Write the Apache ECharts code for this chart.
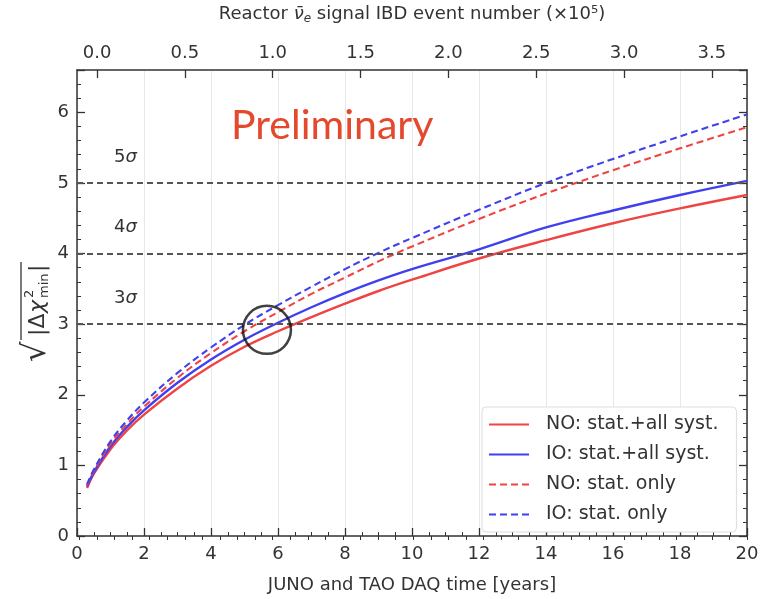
<!DOCTYPE html>
<html>
<head>
<meta charset="utf-8">
<script src="https://cdn.jsdelivr.net/npm/echarts@6/dist/echarts.min.js"></script>
<style>
  html, body { margin: 0; padding: 0; background: #fff; }
  #chart { width: 769px; height: 599px; }
</style>
</head>
<body>
<div id="chart"></div>
<script>
// DAQ time (years) and sqrt(|dchi2_min|)
const years = [0.3, 0.5, 1, 1.5, 2, 3, 4, 5, 6, 7, 8, 9, 10, 12, 14, 16, 18, 20]
const noSyst = [0.68, 0.88, 1.23, 1.50, 1.72, 2.09, 2.41, 2.68, 2.90, 3.10, 3.29, 3.47, 3.63, 3.93, 4.19, 4.43, 4.64, 4.83]
const ioSyst = [0.70, 0.90, 1.27, 1.55, 1.78, 2.17, 2.50, 2.78, 3.02, 3.24, 3.44, 3.62, 3.78, 4.06, 4.37, 4.61, 4.83, 5.03]
const noStat = [0.71, 0.92, 1.30, 1.59, 1.83, 2.24, 2.59, 2.90, 3.17, 3.43, 3.66, 3.89, 4.10, 4.49, 4.85, 5.18, 5.49, 5.79]
const ioStat = [0.73, 0.94, 1.34, 1.64, 1.89, 2.31, 2.67, 2.99, 3.27, 3.53, 3.78, 4.01, 4.22, 4.62, 5.00, 5.34, 5.66, 5.97]

const sigmaLevels = [3, 4, 5]
const circleMark = [[5.67, 2.92]]

// top axis: IBD events (x1e5)
const topTicks = [0, 0.5, 1.0, 1.5, 2.0, 2.5, 3.0, 3.5]
const topMin = -0.114
const topMax = 3.70
const topMinorTicks = []
for (let i = -1; i <= 37; i++) topMinorTicks.push(+(i * 0.1).toFixed(1))

const RED = '#ee4444'
const BLUE = '#4040ee'
const FONT = 'DejaVu Sans'

const pairs = vals => years.map((t, i) => [t, vals[i]])

const chart = echarts.init(document.getElementById('chart'))

const tickStyle = { inside: true, length: 8, lineStyle: { color: '#333', width: 1.3 } }
const minorStyle = { show: true, length: 4, lineStyle: { color: '#333', width: 1 } }

const option = {
  animation: false,
  textStyle: { fontFamily: FONT },
  grid: { left: 77, right: 22, top: 60, bottom: 61 },
  title: {
    text: 'Preliminary',
    left: 226,
    top: 100,
    textStyle: { color: '#e4482d', fontSize: 41, fontWeight: 'normal', fontFamily: 'Lato' }
  },
  legend: {
    data: ['NO: stat.+all syst.', 'IO: stat.+all syst.', 'NO: stat. only', 'IO: stat. only'],
    orient: 'vertical',
    left: 482,
    top: 407,
    itemWidth: 40,
    itemHeight: 16,
    itemGap: 11,
    padding: [8, 18, 8, 6],
    backgroundColor: '#fff',
    borderColor: '#dddddd',
    borderWidth: 1,
    borderRadius: 4,
    itemStyle: { opacity: 0 },
    textStyle: { fontSize: 19, color: '#333', fontFamily: FONT, padding: [0, 0, 0, 12] }
  },
  xAxis: [
    {
      type: 'value',
      position: 'bottom',
      min: 0,
      max: 20,
      interval: 2,
      name: 'JUNO and TAO DAQ time [years]',
      nameLocation: 'middle',
      nameGap: 40,
      nameTextStyle: { fontSize: 18, color: '#333' },
      axisLine: { show: true, onZero: false, lineStyle: { color: '#333', width: 1.5 } },
      axisTick: tickStyle,
      minorTick: Object.assign({ splitNumber: 4 }, minorStyle),
      axisLabel: { fontSize: 18, color: '#333', margin: 9 },
      splitLine: { show: true, lineStyle: { color: '#e8e8e8', width: 1 } }
    },
    {
      type: 'value',
      position: 'top',
      min: topMin,
      max: topMax,
      name: '{n|Reactor }{nu|ν̄}{sub|e}{n| signal IBD event number (×10⁵)}',
      nameLocation: 'middle',
      nameGap: 45,
      nameTextStyle: {
        rich: {
          n: { fontSize: 18, color: '#333', fontFamily: FONT },
          nu: { fontSize: 18, color: '#333', fontFamily: FONT, fontStyle: 'italic' },
          sub: { fontSize: 12, color: '#333', fontFamily: FONT, fontStyle: 'italic', padding: [10, 0, 0, 0] }
        }
      },
      axisLine: { show: true, onZero: false, lineStyle: { color: '#333', width: 1.5 } },
      axisTick: Object.assign({ customValues: topTicks }, tickStyle),
      axisLabel: {
        customValues: topTicks,
        fontSize: 18,
        color: '#333',
        margin: 8,
        formatter: v => v.toFixed(1)
      },
      splitLine: { show: false }
    },
    {
      type: 'value',
      position: 'top',
      min: topMin,
      max: topMax,
      axisLine: { show: false },
      axisTick: { customValues: topMinorTicks, inside: true, length: 4, lineStyle: { color: '#333', width: 1 } },
      axisLabel: { show: false },
      splitLine: { show: false }
    }
  ],
  yAxis: [
    {
      type: 'value',
      position: 'left',
      min: 0,
      max: 6.6,
      interval: 1,
      axisLine: { show: true, onZero: false, lineStyle: { color: '#333', width: 1.5 } },
      axisTick: tickStyle,
      minorTick: Object.assign({ splitNumber: 5 }, minorStyle),
      axisLabel: { fontSize: 18, color: '#333', margin: 8, showMaxLabel: false },
      splitLine: { show: false }
    },
    {
      type: 'value',
      position: 'right',
      min: 0,
      max: 6.6,
      interval: 1,
      axisLine: { show: true, onZero: false, lineStyle: { color: '#333', width: 1.5 } },
      axisTick: tickStyle,
      minorTick: Object.assign({ splitNumber: 5 }, minorStyle),
      axisLabel: { show: false },
      splitLine: { show: false }
    }
  ],
  series: [
    {
      name: 'NO: stat.+all syst.',
      type: 'line',
      data: pairs(noSyst),
      smooth: 0.4,
      showSymbol: false,
      lineStyle: { color: RED, width: 2.4 },
      itemStyle: { color: RED },
      markLine: {
        silent: true,
        symbol: 'none',
        lineStyle: { color: '#555', width: 2, type: [6, 4] },
        label: {
          position: 'insideStartTop',
          distance: 17,
          padding: [0, 0, 0, 20],
          formatter: p => '{n|' + p.value + '}{s|σ}',
          rich: {
            n: { fontSize: 18, color: '#333', fontFamily: FONT },
            s: { fontSize: 18, color: '#333', fontFamily: FONT, fontStyle: 'italic' }
          }
        },
        data: sigmaLevels.map(v => ({ yAxis: v }))
      }
    },
    {
      name: 'IO: stat.+all syst.',
      type: 'line',
      data: pairs(ioSyst),
      smooth: 0.4,
      showSymbol: false,
      lineStyle: { color: BLUE, width: 2.4 },
      itemStyle: { color: BLUE }
    },
    {
      name: 'NO: stat. only',
      type: 'line',
      data: pairs(noStat),
      smooth: 0.4,
      showSymbol: false,
      lineStyle: { color: RED, width: 2.1, type: [7, 4] },
      itemStyle: { color: RED }
    },
    {
      name: 'IO: stat. only',
      type: 'line',
      data: pairs(ioStat),
      smooth: 0.4,
      showSymbol: false,
      lineStyle: { color: BLUE, width: 2.1, type: [7, 4] },
      itemStyle: { color: BLUE }
    },
    {
      name: 'circle',
      type: 'scatter',
      data: circleMark,
      symbol: 'circle',
      symbolSize: 48,
      silent: true,
      z: 5,
      itemStyle: { color: 'rgba(0,0,0,0)', borderColor: '#111', borderWidth: 2.5 }
    }
  ],
  graphic: [
    {
      type: 'group',
      x: 36,
      y: 304,
      rotation: Math.PI / 2,
      children: [
        { type: 'text', x: -58, y: 1, style: { text: '√', font: '32px DejaVu Sans', fill: '#333', verticalAlign: 'middle', align: 'left' } },
        { type: 'text', x: -32, y: 2, style: { text: '|Δ', font: '22px DejaVu Sans', fill: '#333', verticalAlign: 'middle', align: 'left' } },
        { type: 'text', x: -9, y: 2, style: { text: 'χ', font: 'italic 22px DejaVu Sans', fill: '#333', verticalAlign: 'middle', align: 'left' } },
        { type: 'text', x: 6, y: -6, style: { text: '2', font: '13px DejaVu Sans', fill: '#333', verticalAlign: 'middle', align: 'left' } },
        { type: 'text', x: 6, y: 9, style: { text: 'min', font: '13px DejaVu Sans', fill: '#333', verticalAlign: 'middle', align: 'left' } },
        { type: 'text', x: 32, y: 2, style: { text: '|', font: '22px DejaVu Sans', fill: '#333', verticalAlign: 'middle', align: 'left' } },
        { type: 'line', shape: { x1: -36, y1: -15, x2: 42, y2: -15 }, style: { stroke: '#333', lineWidth: 1.3 } }
      ]
    }
  ]
}

chart.setOption(option)
</script>
</body>
</html>
